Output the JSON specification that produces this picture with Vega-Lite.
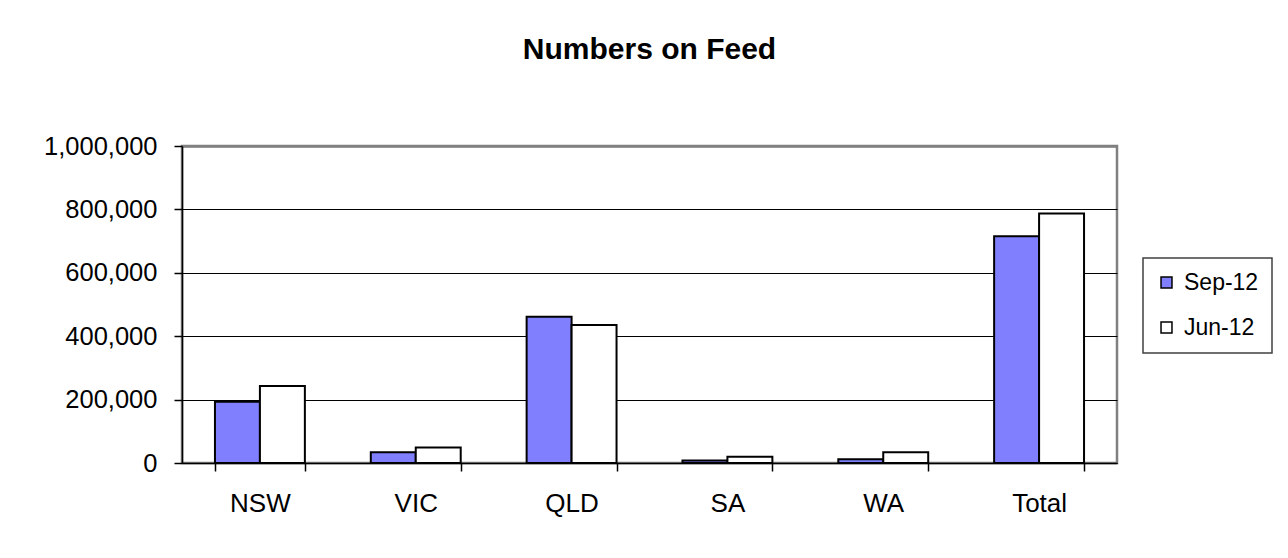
{
  "$schema": "https://vega.github.io/schema/vega-lite/v6.json",
  "width": 935,
  "height": 317,
  "autosize": {"type": "none"},
  "padding": {"left": 182, "top": 146, "right": 171, "bottom": 95},
  "background": "white",
  "title": {
    "text": "Numbers on Feed",
    "font": "Liberation Sans",
    "fontSize": 30,
    "fontWeight": "bold",
    "color": "black",
    "anchor": "middle",
    "offset": 69
  },
  "data": {
    "values": [
      {"region": "NSW", "period": "Sep-12", "value": 193000},
      {"region": "NSW", "period": "Jun-12", "value": 243000},
      {"region": "VIC", "period": "Sep-12", "value": 34000},
      {"region": "VIC", "period": "Jun-12", "value": 49000},
      {"region": "QLD", "period": "Sep-12", "value": 461000},
      {"region": "QLD", "period": "Jun-12", "value": 435000},
      {"region": "SA", "period": "Sep-12", "value": 8000},
      {"region": "SA", "period": "Jun-12", "value": 20000},
      {"region": "WA", "period": "Sep-12", "value": 12000},
      {"region": "WA", "period": "Jun-12", "value": 34000},
      {"region": "Total", "period": "Sep-12", "value": 715000},
      {"region": "Total", "period": "Jun-12", "value": 787000}
    ]
  },
  "mark": {"type": "bar", "stroke": "black", "strokeWidth": 2},
  "encoding": {
    "x": {
      "field": "region",
      "type": "nominal",
      "sort": ["NSW", "VIC", "QLD", "SA", "WA", "Total"],
      "scale": {"paddingInner": 0.423, "paddingOuter": 0.2115},
      "axis": {
        "title": null,
        "labelAngle": 0,
        "labelFont": "Liberation Sans",
        "labelFontSize": 26,
        "labelColor": "black",
        "labelPadding": 19,
        "tickBand": "extent",
        "tickSize": 8,
        "tickColor": "black",
        "tickWidth": 1.5,
        "domainColor": "black",
        "domainWidth": 1.5,
        "grid": false
      }
    },
    "xOffset": {
      "field": "period",
      "type": "nominal",
      "sort": ["Sep-12", "Jun-12"],
      "scale": {"paddingInner": 0, "paddingOuter": 0}
    },
    "y": {
      "field": "value",
      "type": "quantitative",
      "scale": {"domain": [0, 1000000], "nice": false},
      "axis": {
        "title": null,
        "values": [0, 200000, 400000, 600000, 800000, 1000000],
        "format": ",.0f",
        "labelFont": "Liberation Sans",
        "labelFontSize": 25.5,
        "labelColor": "black",
        "labelPadding": 17,
        "tickSize": 8,
        "tickColor": "black",
        "tickWidth": 1.5,
        "domainColor": "black",
        "domainWidth": 1.5,
        "grid": true,
        "gridColor": {"condition": {"test": "datum.value === 1000000", "value": "#808080"}, "value": "black"},
        "gridWidth": {"condition": {"test": "datum.value === 1000000", "value": 2.5}, "value": 1},
        "gridOpacity": 1
      }
    },
    "color": {
      "field": "period",
      "type": "nominal",
      "sort": ["Sep-12", "Jun-12"],
      "scale": {"domain": ["Sep-12", "Jun-12"], "range": ["#8080FF", "#FFFFFF"]},
      "legend": {
        "title": null,
        "orient": "none",
        "legendX": 961,
        "legendY": 112,
        "padding": 13,
        "symbolOffset": -1,
        "symbolType": "square",
        "symbolSize": 120,
        "symbolStrokeColor": "black",
        "symbolStrokeWidth": 1.5,
        "symbolOpacity": 1,
        "labelFont": "Liberation Sans",
        "labelFontSize": 23,
        "labelColor": "black",
        "labelOffset": 6,
        "rowPadding": 21,
        "strokeColor": "#404040",
        "fillColor": "white",
        "encode": {"legend": {"update": {"strokeWidth": {"value": 1.5}}}}
      }
    }
  },
  "config": {
    "view": {"stroke": "#808080", "strokeWidth": 2.5}
  }
}
